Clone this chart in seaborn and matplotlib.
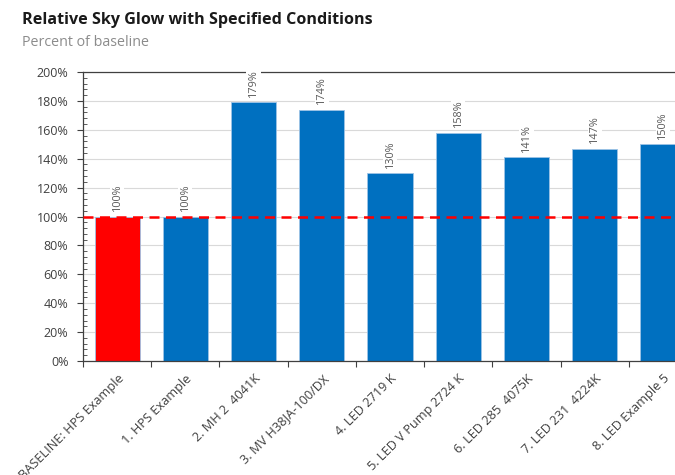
import matplotlib
matplotlib.use("Agg")
import matplotlib.pyplot as plt
import seaborn as sns
import pandas as pd
from matplotlib.ticker import MultipleLocator, FuncFormatter

categories = ["BASELINE: HPS Example", "1. HPS Example", "2. MH 2  4041K",
              "3. MV H38JA-100/DX", "4. LED 2719 K", "5. LED V Pump 2724 K",
              "6. LED 285  4075K", "7. LED 231  4224K", "8. LED Example 5"]
values = [100, 100, 179, 174, 130, 158, 141, 147, 150]
bar_colors = ["#ff0000"] + ["#0070c0"] * 8
baseline = 100

sns.set_theme(style="white")
plt.rcParams['font.family'] = ['Open Sans', 'DejaVu Sans']

df = pd.DataFrame({"cat": categories, "val": values})

fig = plt.figure(figsize=(6.75, 4.75), dpi=100)
ax = fig.add_axes([83/675, 114/475, 614/675, 289/475])

sns.barplot(data=df, x="cat", y="val", hue="cat", palette=bar_colors,
            legend=False, width=0.66, ax=ax, saturation=1, zorder=2,
            edgecolor="#9dc3e6", linewidth=0.6)

ax.set_xlim(-0.5, len(categories) - 0.5)
ax.set_ylim(0, 200)
ax.yaxis.set_major_locator(MultipleLocator(20))
ax.yaxis.set_minor_locator(MultipleLocator(4))
ax.yaxis.set_major_formatter(FuncFormatter(lambda v, p: f"{v:.0f}%"))
ax.grid(axis="y", which="major", color="#d9d9d9", linewidth=0.8, zorder=0)
ax.set_axisbelow(True)

ax.axhline(baseline, color="#ff0000", linewidth=1.8, dashes=(4, 2.6), zorder=3)

for c in ax.containers:
    ax.bar_label(c, labels=[f"{v:.0f}%" for v in c.datavalues], rotation=90,
                 padding=4, fontsize=7.8, color="#595959",
                 bbox=dict(facecolor="white", edgecolor="none", pad=1.2), zorder=4)

ax.set_xlabel("")
ax.set_ylabel("")
ax.set_xticks(range(len(categories)))
ax.set_xticklabels(categories, rotation=45, ha="right", rotation_mode="anchor",
                   fontsize=9.2, color="#404040")
ax.tick_params(axis="x", length=0, pad=8)
# category boundary ticks
ax.set_xticks([i - 0.5 for i in range(len(categories) + 1)], minor=True)
ax.tick_params(axis="x", which="minor", length=4.5, width=0.8, color="#404040", direction="out", bottom=True)
ax.tick_params(axis="y", which="major", length=4.5, width=0.8, color="#404040",
               direction="out", labelsize=9, labelcolor="#404040", pad=6, left=True)
ax.tick_params(axis="y", which="minor", length=3, width=0.6, color="#404040",
               direction="in", left=True)

for s in ["left", "bottom"]:
    ax.spines[s].set_color("#404040")
    ax.spines[s].set_linewidth(0.9)
ax.spines["top"].set_color("#404040")
ax.spines["top"].set_linewidth(0.9)
ax.spines["right"].set_visible(False)

fig.text(22/675, 1 - 20/475, "Relative Sky Glow with Specified Conditions",
         fontsize=11.6, fontweight="bold", color="#1a1a1a", va="center")
fig.text(22/675, 1 - 43/475, "Percent of baseline", fontsize=10.3,
         color="#8c8c8c", va="center")

fig.savefig("out.png", dpi=100)
